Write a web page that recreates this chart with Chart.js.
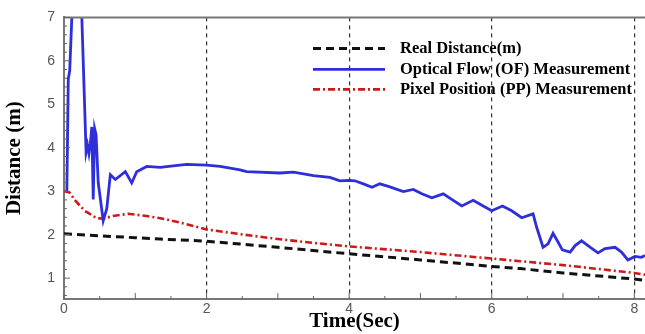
<!DOCTYPE html>
<html>
<head>
<meta charset="utf-8">
<script src="https://cdn.jsdelivr.net/npm/chart.js@4"></script>
<style>
  html, body { margin: 0; padding: 0; background: #fff; }
</style>
</head>
<body>
<canvas id="distChart" width="645" height="334"></canvas>
<script>
// tick labels
const xTicks = [0, 2, 4, 6, 8];
const yTicks = [1, 2, 3, 4, 5, 6, 7];

// series: Real Distance(m)
const realT = [0, 1, 1.35, 2, 3, 4, 5, 6, 6.4, 7, 8, 8.15];
const realD = [2.02, 1.93, 1.9, 1.85, 1.71, 1.56, 1.42, 1.27, 1.22, 1.12, 0.98, 0.95];

// series: Optical Flow (OF) Measurement
const ofT = [0.04, 0.06, 0.08, 0.11, 0.15, 0.22, 0.25, 0.31, 0.33, 0.35, 0.37, 0.39, 0.41, 0.43, 0.45, 0.48,
  0.55, 0.6, 0.65, 0.72, 0.86, 0.95, 1.02, 1.16, 1.35, 1.5, 1.72, 2.0, 2.19, 2.47, 2.56, 3.03, 3.22, 3.5,
  3.73, 3.87, 4.0, 4.08, 4.2, 4.32, 4.43, 4.55, 4.76, 4.9, 5.02, 5.16, 5.32, 5.46, 5.58, 5.74, 5.88, 6.0,
  6.15, 6.28, 6.42, 6.58, 6.63, 6.72, 6.79, 6.86, 6.93, 6.99, 7.1, 7.17, 7.26, 7.35, 7.49, 7.59, 7.73,
  7.82, 7.91, 8.01, 8.1, 8.15];
const ofD = [3.0, 5.58, 5.77, 7.0, 9.0, 9.0, 7.0, 3.9, 4.06, 3.87, 4.1, 4.48, 2.81, 4.44, 4.3, 3.2,
  2.32, 2.6, 3.38, 3.27, 3.45, 3.19, 3.45, 3.57, 3.55, 3.58, 3.62, 3.6, 3.57, 3.49, 3.45, 3.42, 3.44, 3.36,
  3.32, 3.24, 3.25, 3.24, 3.17, 3.09, 3.17, 3.11, 2.99, 3.04, 2.94, 2.85, 2.94, 2.79, 2.66, 2.79, 2.66, 2.55,
  2.66, 2.55, 2.39, 2.48, 2.17, 1.71, 1.79, 2.03, 1.83, 1.65, 1.6, 1.75, 1.86, 1.75, 1.58, 1.68, 1.71,
  1.6, 1.42, 1.5, 1.48, 1.52];

// series: Pixel Position (PP) Measurement
const ppT = [0, 0.08, 0.15, 0.29, 0.46, 0.55, 0.69, 0.9, 1.16, 1.35, 1.63, 2.0, 2.48, 3.0, 3.5, 4.0, 5.0, 6.0, 6.4, 7.0, 8.0, 8.15];
const ppD = [3.0, 2.97, 2.8, 2.55, 2.38, 2.37, 2.43, 2.48, 2.43, 2.38, 2.28, 2.12, 2.01, 1.9, 1.81, 1.73, 1.6, 1.45, 1.39, 1.3, 1.12, 1.08];

function pts(t, d) {
    return t.map((v, i) => ({ x: v, y: d[i] }));
}

const framePlugin = {
    id: 'framePlugin',
    afterDraw(chart) {
        const ctx = chart.ctx;
        const a = chart.chartArea;
        const xs = chart.scales.x;
        const ys = chart.scales.y;
        ctx.save();
        // top border
        ctx.strokeStyle = '#777';
        ctx.lineWidth = 2;
        ctx.beginPath();
        ctx.moveTo(a.left, a.top);
        ctx.lineTo(a.right, a.top);
        ctx.stroke();

        // inward ticks
        ctx.lineWidth = 1;
        ctx.strokeStyle = '#666';
        for (let v = 0; v <= 8.15; v += 0.5) {
            const px = xs.getPixelForValue(v);
            const len = Math.abs(v - Math.round(v)) < 0.01 ? 6 : 3;
            ctx.beginPath();
            ctx.moveTo(px, a.bottom);
            ctx.lineTo(px, a.bottom - len);
            ctx.stroke();
        }
        for (let v = 0.6; v <= 7.001; v += 0.2) {
            const py = ys.getPixelForValue(v);
            const len = Math.abs(v - Math.round(v)) < 0.01 ? 6 : 3;
            ctx.beginPath();
            ctx.moveTo(a.left, py);
            ctx.lineTo(a.left + len, py);
            ctx.stroke();
        }

        // legend
        const lx0 = a.left + 249;
        const lx1 = lx0 + 72;
        const rows = [a.top + 31, a.top + 52, a.top + 72];
        ctx.font = 'bold 16.5px "Liberation Serif", "Times New Roman", serif';
        ctx.textBaseline = 'middle';
        ctx.textAlign = 'left';
        chart.data.datasets.forEach((ds, i) => {
            const y = rows[i];
            ctx.strokeStyle = ds.borderColor;
            ctx.lineWidth = ds.borderWidth;
            ctx.setLineDash(ds.borderDash || []);
            ctx.beginPath();
            ctx.moveTo(lx0, y);
            ctx.lineTo(lx1, y);
            ctx.stroke();
            ctx.setLineDash([]);
            ctx.fillStyle = '#000';
            ctx.fillText(ds.label, lx0 + 87, y);
        });
        ctx.restore();
    }
};

const ctx = document.getElementById('distChart').getContext('2d');
new Chart(ctx, {
    type: 'line',
    data: {
        datasets: [{
            label: 'Real Distance(m)',
            data: pts(realT, realD),
            borderColor: '#111',
            borderWidth: 3,
            borderDash: [8, 5]
        }, {
            label: 'Optical Flow (OF) Measurement',
            data: pts(ofT, ofD),
            borderColor: '#2e2edc',
            borderWidth: 2.8
        }, {
            label: 'Pixel Position (PP) Measurement',
            data: pts(ppT, ppD),
            borderColor: '#cc1a1a',
            borderWidth: 2.6,
            borderDash: [7, 3, 2, 3]
        }]
    },
    options: {
        responsive: false,
        animation: false,
        parsing: false,
        elements: { point: { radius: 0 }, line: { tension: 0 } },
        layout: { padding: { top: 14, left: 0, right: 0, bottom: 0 } },
        plugins: { legend: { display: false }, tooltip: { enabled: false } },
        scales: {
            x: {
                type: 'linear',
                min: 0,
                max: 8.15,
                afterFit: s => { s.height = 35; },
                afterBuildTicks: s => { s.ticks = xTicks.map(v => ({ value: v })); },
                grid: {
                    drawTicks: false,
                    lineWidth: 1.2,
                    color: c => (c.tick && c.tick.value === 0) ? 'rgba(0,0,0,0)' : '#333'
                },
                border: { color: '#777', width: 2, dash: [4, 4] },
                ticks: {
                    color: '#555',
                    padding: 2,
                    maxRotation: 0,
                    font: { family: 'Liberation Sans', size: 14 }
                },
                title: {
                    display: true,
                    text: 'Time(Sec)',
                    color: '#000',
                    padding: { top: 0, bottom: 0 },
                    font: { family: 'Liberation Serif', size: 21, weight: 'bold' }
                }
            },
            y: {
                type: 'linear',
                min: 0.52,
                max: 7,
                afterFit: s => { s.width = 64; },
                afterBuildTicks: s => { s.ticks = yTicks.map(v => ({ value: v })); },
                grid: { drawTicks: false, color: 'rgba(0,0,0,0)' },
                border: { color: '#777', width: 2 },
                ticks: {
                    color: '#555',
                    padding: 9,
                    font: { family: 'Liberation Sans', size: 14 }
                },
                title: {
                    display: true,
                    text: 'Distance (m)',
                    color: '#000',
                    padding: { top: 2, bottom: 0 },
                    font: { family: 'Liberation Serif', size: 21, weight: 'bold' }
                }
            }
        }
    },
    plugins: [framePlugin]
});
</script>
</body>
</html>
